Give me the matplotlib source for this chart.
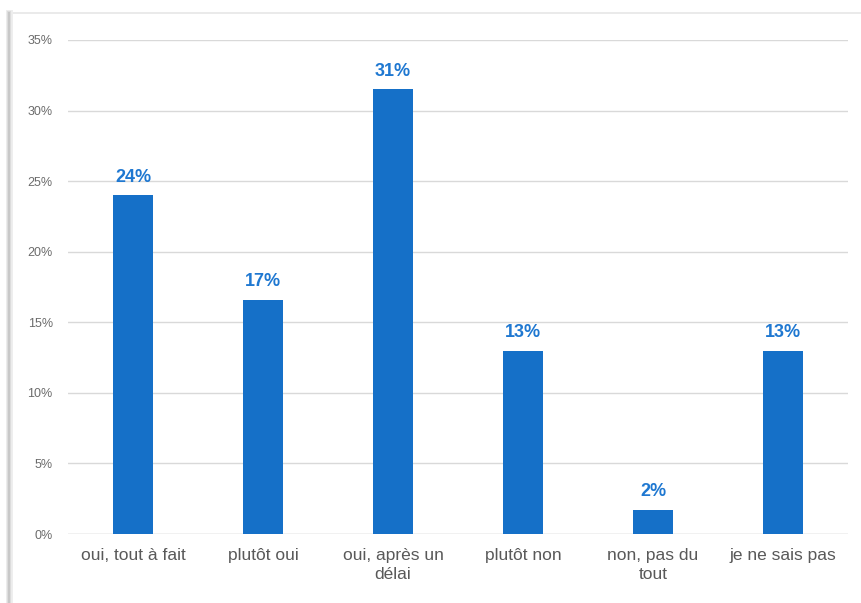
import matplotlib
matplotlib.use("Agg")
import matplotlib.pyplot as plt
from matplotlib.lines import Line2D
from matplotlib.ticker import FuncFormatter

categories = ["oui, tout à fait", "plutôt oui", "oui, après un\ndélai", "plutôt non", "non, pas du\ntout", "je ne sais pas"]
values = [24.0, 16.6, 31.5, 13.0, 1.7, 13.0]
labels = ["24%", "17%", "31%", "13%", "2%", "13%"]
yticks = [0, 5, 10, 15, 20, 25, 30, 35]

plt.rcParams['font.family'] = ['Liberation Sans', 'DejaVu Sans']

fig = plt.figure(figsize=(8.61, 6.03), dpi=100)
ax = fig.add_axes([0.079, 0.1144, 0.906, 0.8193])

x = list(range(len(categories)))
bars = ax.bar(x, values, width=0.31, color="#1570C8", zorder=3)
for xi, v, lab in zip(x, values, labels):
    ax.annotate(lab, (xi, v), xytext=(0, 7), textcoords="offset points",
                ha="center", va="bottom", color="#1F78D1", fontsize=13, fontweight="bold")

ax.set_xlim(-0.5, 5.5)
ax.set_ylim(0, 35)
ax.set_yticks(yticks)
ax.yaxis.set_major_formatter(FuncFormatter(lambda v, p: f"{int(v)}%"))
ax.set_xticks(x)
ax.set_xticklabels(categories, fontsize=12.5, color="#595959", linespacing=1.3)
ax.tick_params(axis="y", labelsize=9, colors="#6B6B6B", length=0, pad=11)
ax.tick_params(axis="x", length=0, pad=10)
ax.grid(axis="y", color="#D9D9D9", linewidth=1, zorder=0)
for s in ax.spines.values():
    s.set_visible(False)
ax.axhline(0, color="#D9D9D9", linewidth=1, zorder=2)

# frame: top line and left line with shadow
fig.add_artist(Line2D([0.0105, 1.0], [0.978, 0.978], transform=fig.transFigure, color="#E6E6E6", linewidth=1.2))
for i, (c, w) in enumerate([("#EEEEEE", 5), ("#DDDDDD", 3), ("#C8C8C8", 1.5)]):
    fig.add_artist(Line2D([0.0105, 0.0105], [0.0, 0.978], transform=fig.transFigure, color=c, linewidth=w))

fig.savefig("out.png", dpi=100)
